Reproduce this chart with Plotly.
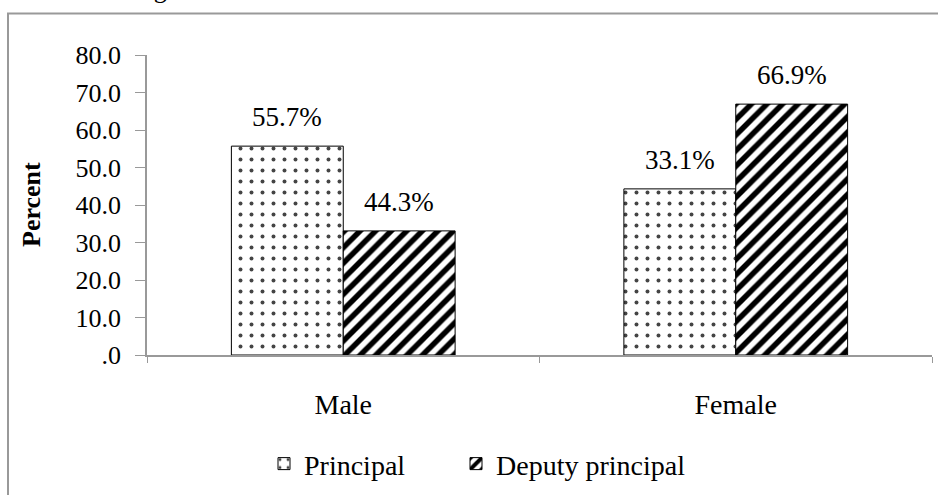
import plotly.graph_objects as go

categories = ["Male", "Female"]
principal_values = [55.7, 44.3]
deputy_values = [33.1, 66.9]
principal_labels = ["55.7%", "33.1%"]
deputy_labels = ["44.3%", "66.9%"]
y_tickvals = [0, 10, 20, 30, 40, 50, 60, 70, 80]
y_ticktext = [".0", "10.0", "20.0", "30.0", "40.0", "50.0", "60.0", "70.0", "80.0"]

FONT = "Liberation Serif"
FS = 26

L, R, T, B = 147, 6, 55, 137
PW = 938 - L - R
PH = 495 - T - B


def px_x(x):
    return (x - L) / PW


def px_y(y):
    return (495 - B - y) / PH


fig = go.Figure()
fig.add_trace(go.Bar(
    name="Principal", x=categories, y=principal_values, legend="legend",
    marker=dict(color="white", line=dict(color="black", width=1),
                pattern=dict(shape=".", fgcolor="#444444", bgcolor="white",
                             size=11, solidity=0.1, fgopacity=1)),
))
fig.add_trace(go.Bar(
    name="Deputy principal", x=categories, y=deputy_values, legend="legend2",
    marker=dict(color="white", line=dict(color="black", width=1),
                pattern=dict(shape="/", fgcolor="black", bgcolor="white",
                             size=11, solidity=0.5, fgopacity=1)),
))

annotations = []
for i, c in enumerate(categories):
    annotations.append(dict(x=c, y=principal_values[i], xref="x", yref="y",
                            text=principal_labels[i], showarrow=False,
                            xshift=-56, yanchor="bottom", yshift=12,
                            font=dict(family=FONT, size=27, color="black")))
    annotations.append(dict(x=c, y=deputy_values[i], xref="x", yref="y",
                            text=deputy_labels[i], showarrow=False,
                            xshift=56, yanchor="bottom", yshift=12,
                            font=dict(family=FONT, size=27, color="black")))
# y axis title
annotations.append(dict(x=px_x(31), y=0.5, xref="paper", yref="paper",
                        text="<b>Percent</b>", textangle=-90, showarrow=False,
                        xanchor="center", yanchor="middle",
                        font=dict(family=FONT, size=FS, color="black")))
# partially cut-off caption at top
annotations.append(dict(x=px_x(130), y=px_y(6), xref="paper", yref="paper",
                        text="Figure", showarrow=False, xanchor="left", yanchor="bottom",
                        font=dict(family=FONT, size=FS, color="black")))

legend_common = dict(orientation="h", yanchor="middle", y=px_y(468), xanchor="left",
                     font=dict(family=FONT, size=28, color="black"),
                     itemwidth=30, bgcolor="rgba(0,0,0,0)", borderwidth=0)

fig.update_layout(
    width=938, height=495,
    margin=dict(l=L, r=R, t=T, b=B),
    paper_bgcolor="white", plot_bgcolor="white",
    barmode="group", bargap=0.43, bargroupgap=0,
    font=dict(family=FONT, size=FS, color="black"),
    showlegend=True,
    legend=dict(x=px_x(264), **legend_common),
    legend2=dict(x=px_x(456), **legend_common),
    annotations=annotations,
    xaxis=dict(showline=True, linecolor="#999999", linewidth=1.5,
               ticks="outside", tickson="boundaries", ticklen=6, tickcolor="#999999",
               ticklabelstandoff=24, showgrid=False, zeroline=False,
               tickfont=dict(family=FONT, size=28, color="black")),
    yaxis=dict(range=[0, 80], tickvals=y_tickvals, ticktext=y_ticktext,
               showline=True, linecolor="#999999", linewidth=1.5,
               ticks="outside", ticklen=10, tickcolor="#999999",
               ticklabelstandoff=9, showgrid=False, zeroline=False,
               tickfont=dict(family=FONT, size=FS, color="black")),
    shapes=[dict(type="rect", xref="paper", yref="paper",
                 x0=px_x(8), x1=px_x(945),
                 y0=px_y(505), y1=px_y(13),
                 line=dict(color="#999999", width=2), fillcolor="rgba(0,0,0,0)")],
)

fig.write_html("out.html", config={"displayModeBar": False},
               post_script="document.body.style.margin='0';document.body.style.overflow='hidden';")
